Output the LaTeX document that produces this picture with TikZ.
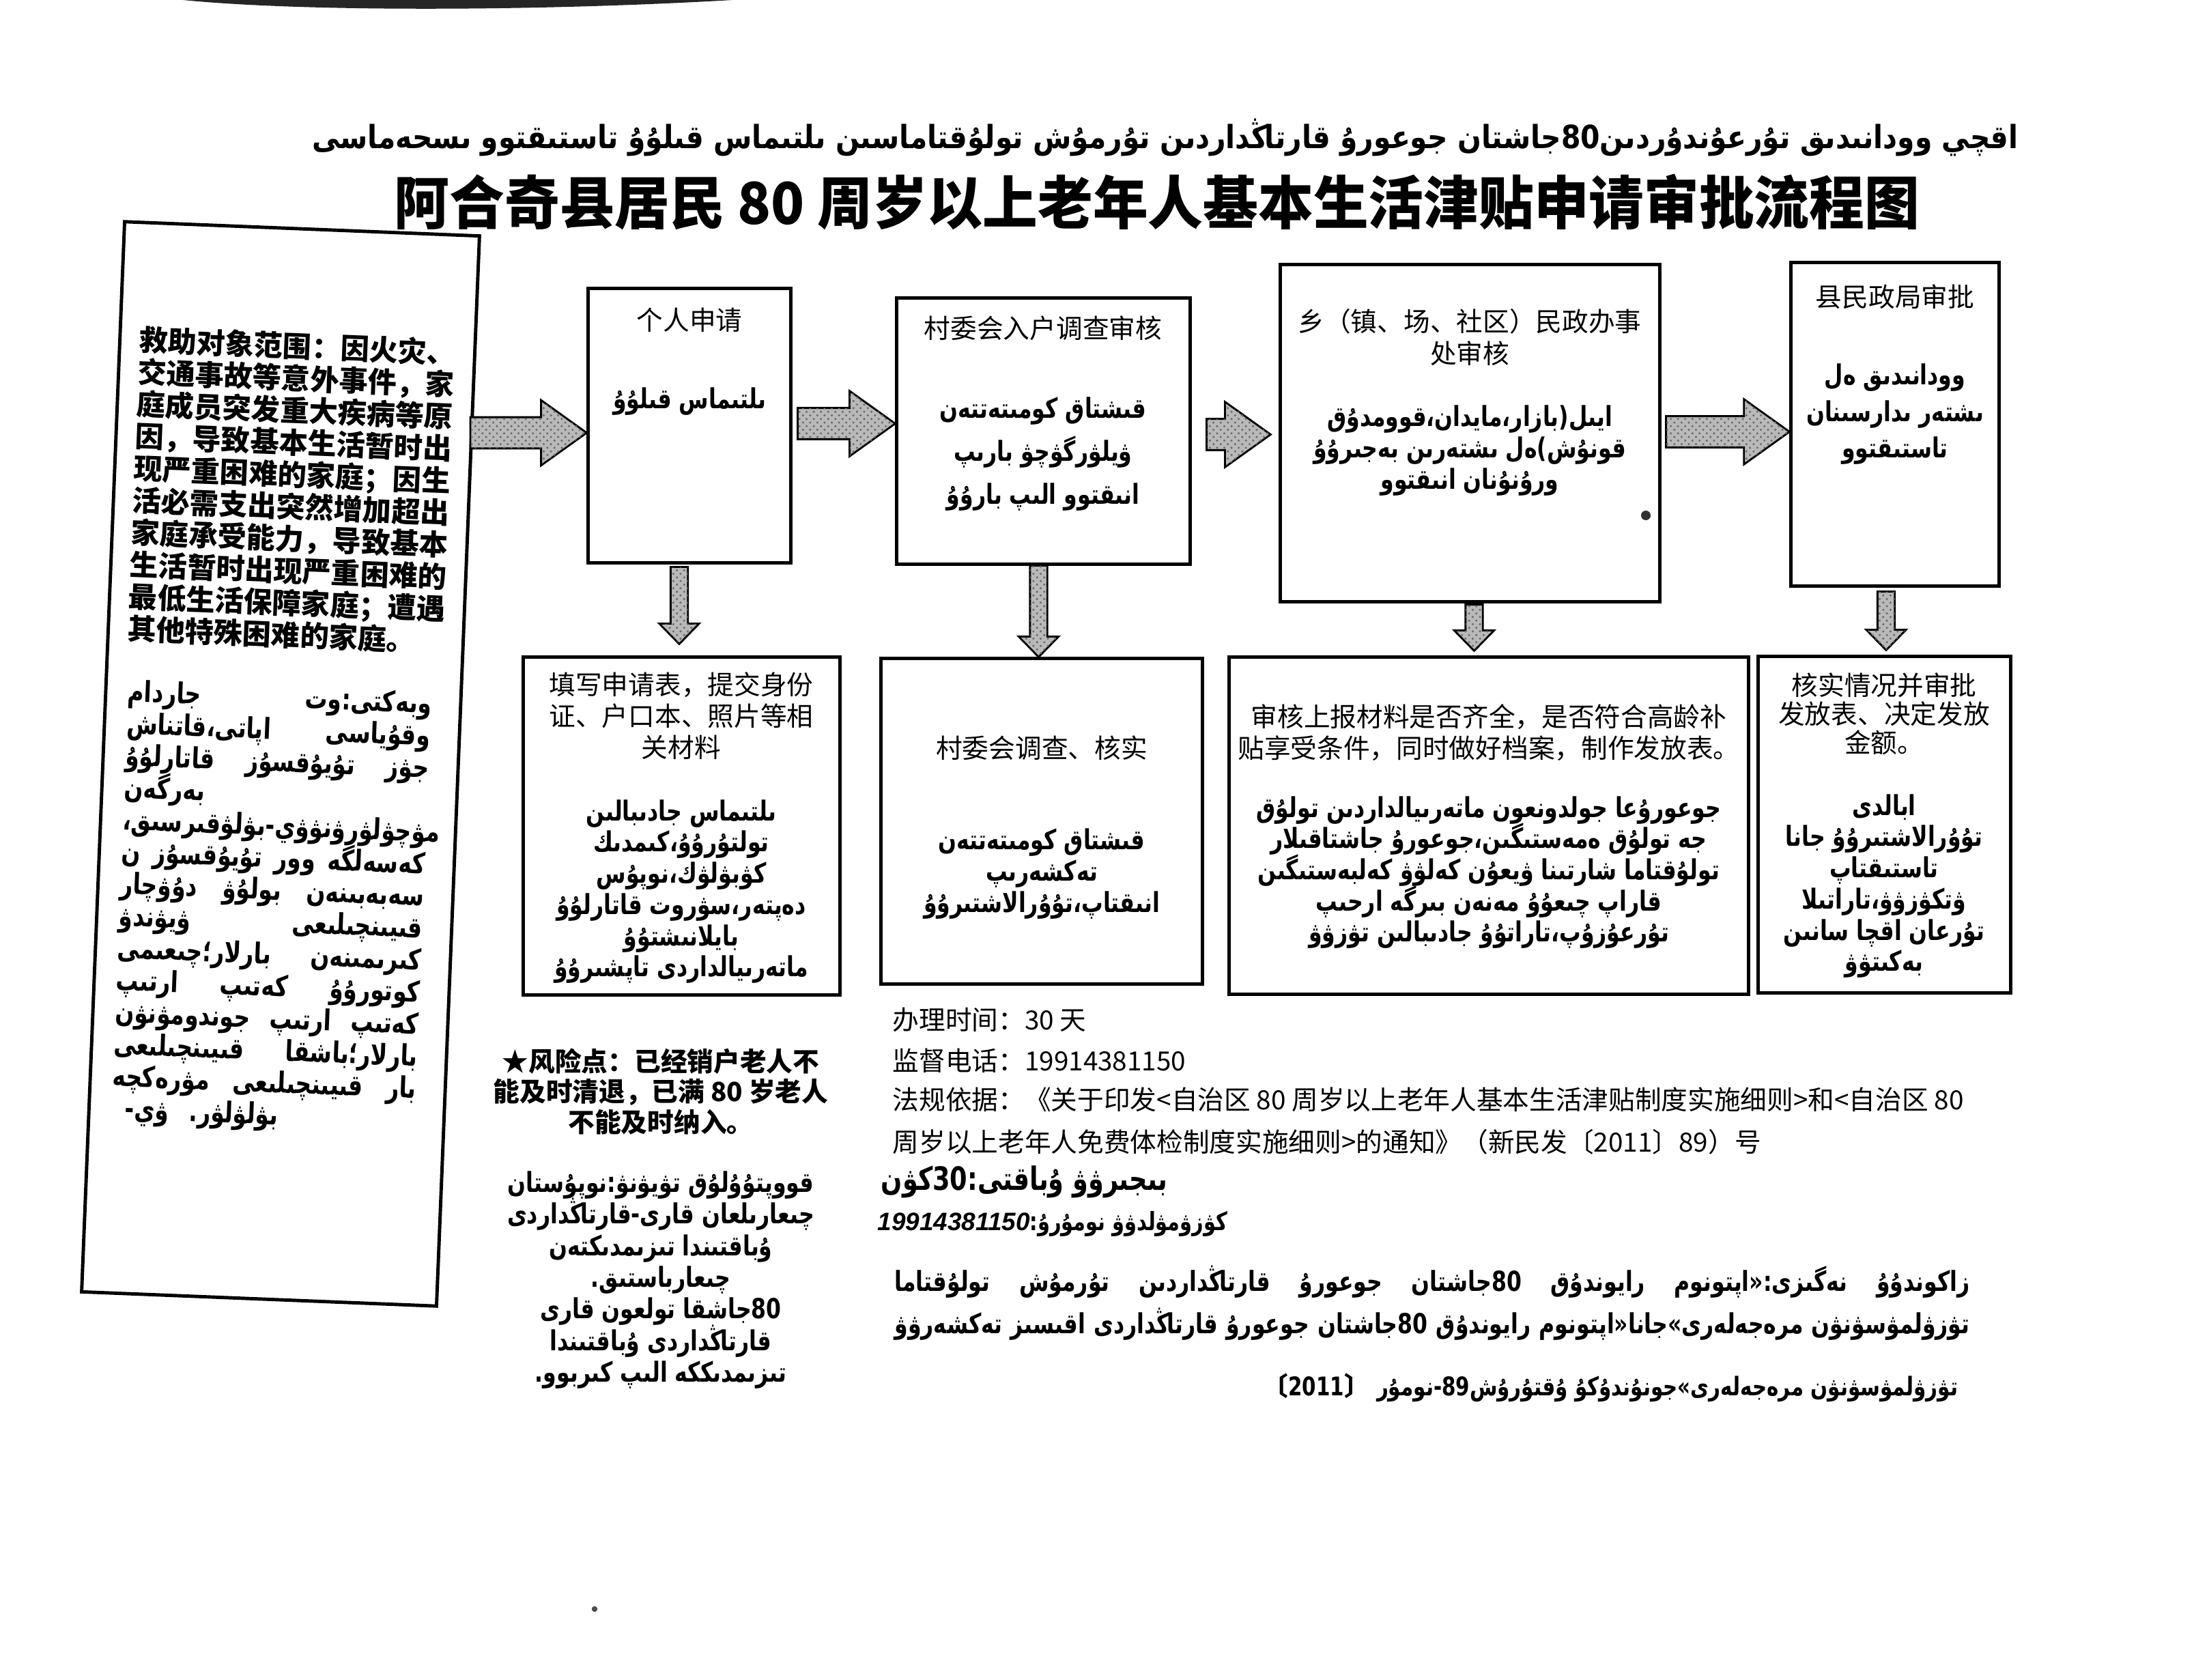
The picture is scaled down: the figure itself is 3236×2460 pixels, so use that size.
\documentclass[tikz,border=0pt]{standalone}
\usepackage{fontspec}
\setmainfont{Liberation Sans}
\newfontfamily\cjk{Noto Sans CJK SC}
\newfontfamily\arabicfont[Script=Arabic, FakeStretch=0.78]{DejaVu Sans}
\TeXXeTstate=1
\usetikzlibrary{calc,patterns}

% text helpers
\newcommand{\ug}[1]{{\arabicfont\bfseries\beginR #1\endR}}
\newcommand{\ugw}[1]{\hbox{\arabicfont\bfseries #1}}
\newcommand{\ugrow}[1]{\hbox to 4.45cm{#1}}
\newcommand{\ugsize}[1]{\fontsize{11.5}{#1}\selectfont\lineskiplimit=-20pt}
\newcommand{\zhsize}[1]{\cjk\fontsize{11}{#1}\selectfont\lineskiplimit=-20pt}

% fat block arrows, from node to node
\newcommand{\hfat}[2]{\path[fatarrow] let \p1=(#1), \p2=(#2) in
  (\x1,\y1+6.5pt) -- (\x2-19pt,\y1+6.5pt) -- (\x2-19pt,\y1+13.6pt) -- (\x2,\y1)
  -- (\x2-19pt,\y1-13.6pt) -- (\x2-19pt,\y1-6.5pt) -- (\x1,\y1-6.5pt) -- cycle;}
\newcommand{\vfat}[2]{\path[fatarrow] let \p1=(#1), \p2=(#2) in
  (\x1-3.6pt,\y1) -- (\x1-3.6pt,\y2+8.5pt) -- (\x1-8.3pt,\y2+8.5pt) -- (\x1,\y2)
  -- (\x1+8.3pt,\y2+8.5pt) -- (\x1+3.6pt,\y2+8.5pt) -- (\x1+3.6pt,\y1) -- cycle;}

\begin{document}
\begin{tikzpicture}[x=0.01cm, y=-0.01cm,
    flowbox/.style={draw, line width=1.4pt, inner sep=0pt},
    zh/.style={align=center, inner sep=0pt, font=\zhsize{13.1}},
    ugt/.style={align=center, inner sep=0pt, font=\ugsize{13}},
    fatarrow/.style={draw, line width=0.8pt, fill=gray!55,
        postaction={pattern=crosshatch dots, pattern color=gray!85!black}}]
    \useasboundingbox (0,0) rectangle (3236,2460);

    % scan edge at the top
    \fill[black!85] (268,0) .. controls (450,18) and (800,16) .. (1073,0) -- cycle;

    % =========================================================
    % TITLES
    % =========================================================
    \node[inner sep=0pt] (ugtitle) at (1707,202) {\resizebox*{24.98cm}{0.55cm}{\ug{اقچي وودانىدىق تۇرعۇندۇردىن\beginL 80\endL{}جاشتان جوعورۇ قارتاڭداردىن تۇرمۇش تولۇقتاماسىن ىلتىماس قىلۇۇ تاستىقتوو ىسحەماسى}}};
    \node[inner sep=0pt] (title) at (1695,296) {\resizebox*{22.33cm}{0.82cm}{\cjk\bfseries 阿合奇县居民 80 周岁以上老年人基本生活津贴申请审批流程图}};

    % =========================================================
    % LEFT BOX (slightly tilted on the scan)
    % =========================================================
    \begin{scope}[shift={(411,1119)}, rotate=-2.3]
        \node[flowbox, transform shape, minimum width=5.2cm, minimum height=15.68cm] (scopebox) at (0,0) {};
        \node[zh, transform shape, align=left, font={\cjk\bfseries\fontsize{12}{13.37}\selectfont}] (scopezh) at (0,-401)
            {救助对象范围：因火灾、\\交通事故等意外事件，家\\庭成员突发重大疾病等原\\因，导致基本生活暂时出\\现严重困难的家庭；因生\\活必需支出突然增加超出\\家庭承受能力，导致基本\\生活暂时出现严重困难的\\最低生活保障家庭；遭遇\\其他特殊困难的家庭。};
        \node[ugt, transform shape, font={\fontsize{12}{13.37}\selectfont\lineskiplimit=-20pt}] (scopeug) at (-5,212)
            {\ugrow{\ugw{جاردام}\hfill\ugw{وبەكتى:وت}}\\
             \ugrow{\ugw{اپاتى،قاتناش}\hfill\ugw{وقۇياسى}}\\
             \ugrow{\ugw{قاتارلۇۇ}\hfill\ugw{تۇيۇقسۇز}\hfill\ugw{جۋز}}\\
             \ugrow{\ugw{بەرگەن}\hfill}\\
             \ugrow{\ugw{قىرسىق،}\hfill\ugw{ۋي-بۋلۋ}\hfill\ugw{مۋچۋلۋرۋنۋ}}\\
             \ugrow{\ugw{ن}\hfill\ugw{تۇيۇقسۇز}\hfill\ugw{وور}\hfill\ugw{كەسەلگە}}\\
             \ugrow{\ugw{دۇۋچار}\hfill\ugw{بولۇۋ}\hfill\ugw{سەبەبىنەن}}\\
             \ugrow{\ugw{ۋيۋندۋ}\hfill\ugw{قىيىنچىلىعى}}\\
             \ugrow{\ugw{بارلار؛چىعىمى}\hfill\ugw{كىرىمىنەن}}\\
             \ugrow{\ugw{ارتىپ}\hfill\ugw{كەتىپ}\hfill\ugw{كوتورۇۇ}}\\
             \ugrow{\ugw{جوندومۋنۋن}\hfill\ugw{ارتىپ}\hfill\ugw{كەتىپ}}\\
             \ugrow{\ugw{قىيىنچىلىعى}\hfill\ugw{بارلار؛باشقا}}\\
             \ugrow{\ugw{مۋرەكچە}\hfill\ugw{قىيىنچىلىعى}\hfill\ugw{بار}}\\
             \ugrow{\hspace{0.2cm}\ugw{ۋي-}\hspace{0.3cm}\ugw{بۋلۋلۋر.}\hfill}};
    \end{scope}
    \coordinate (scopeout) at (689,634);

    % =========================================================
    % UPPER ROW
    % =========================================================
    \node[flowbox, minimum width=2.96cm, minimum height=4.01cm] (apply) at (1010,623.5) {};
    \node[zh] (applyzh) at (1010,469) {个人申请};
    \node[ugt] (applyug) at (1010,588) {\ug{ىلتىماس قىلۇۇ}};

    \node[flowbox, minimum width=4.29cm, minimum height=3.89cm] (village) at (1528.5,631.5) {};
    \node[zh] (villagezh) at (1528,481) {村委会入户调查审核};
    \node[ugt, font=\ugsize{17.9}] (villageug) at (1528,665)
        {\ug{قىشتاق كومىتەتتەن}\\\ug{ۋيلۋرگۋچۋ بارىپ}\\\ug{انىقتوو الىپ بارۇۇ}};

    \node[flowbox, minimum width=5.55cm, minimum height=4.93cm] (town) at (2153.5,634.5) {};
    \node[zh] (townzh) at (2153,494) {乡（镇、场、社区）民政办事\\处审核};
    \node[ugt] (townug) at (2153,660)
        {\ug{ايىل(بازار،مايدان،قوومدۇق}\\\ug{قونۇش)ەل ىشتەرىن بەجىرۇۇ}\\\ug{ورۇنۇنان انىقتوو}};

    \node[flowbox, minimum width=3.04cm, minimum height=4.73cm] (county) at (2776,621.5) {};
    \node[zh] (countyzh) at (2776,435) {县民政局审批};
    \node[ugt, font=\ugsize{15.2}] (countyug) at (2776,607)
        {\ug{وودانىدىق ەل}\\\ug{ىشتەر ىدارسىنان}\\\ug{تاستىقتوو}};

    % =========================================================
    % LOWER ROW
    % =========================================================
    \node[flowbox, minimum width=4.63cm, minimum height=4.94cm] (form) at (998.5,1210) {};
    \node[zh] (formzh) at (998,1049) {填写申请表，提交身份\\证、户口本、照片等相\\关材料};
    \node[ugt] (formug) at (998,1306)
        {\ug{ىلتىماس جادىبالىن}\\\ug{تولتۇرۇۇ،كىمدىك}\\\ug{كۋبۋلۋك،نوپۇس}\\\ug{دەپتەر،سۋروت قاتارلۇۇ}\\\ug{بايلانىشتۇۇ}\\\ug{ماتەرىيالداردى تاپشىرۇۇ}};

    \node[flowbox, minimum width=4.70cm, minimum height=4.76cm] (check) at (1526,1203) {};
    \node[zh] (checkzh) at (1526,1096) {村委会调查、核实};
    \node[ugt] (checkug) at (1526,1280)
        {\ug{قىشتاق كومىتەتتەن}\\\ug{تەكشەرىپ}\\\ug{انىقتاپ،تۇۇرالاشتىرۇۇ}};

    \node[flowbox, minimum width=7.60cm, minimum height=4.93cm] (review) at (2181,1209.5) {};
    \node[zh] (reviewzh) at (2181,1073) {审核上报材料是否齐全，是否符合高龄补\\贴享受条件，同时做好档案，制作发放表。};
    \node[ugt] (reviewug) at (2181,1278)
        {\ug{جوعورۇعا جولدونعون ماتەرىيالداردىن تولۇق}\\\ug{جە تولۇق ەمەستىگىن،جوعورۇ جاشتاقىلار}\\\ug{تولۇقتاما شارتىنا ۋيعۇن كەلۋۋ كەلبەستىگىن}\\\ug{قاراپ چىعۇۇ مەنەن بىرگە ارحىپ}\\\ug{تۇرعۇزۇپ،تاراتۇۇ جادىبالىن تۋزۋۋ}};

    \node[flowbox, minimum width=3.69cm, minimum height=4.92cm] (approve) at (2760.5,1208) {};
    \node[zh, font=\zhsize{11.9}] (approvezh) at (2760,1046) {核实情况并审批\\发放表、决定发放\\金额。};
    \node[ugt] (approveug) at (2760,1298)
        {\ug{ابالدى}\\\ug{تۇۇرالاشتىرۇۇ جانا}\\\ug{تاستىقتاپ}\\\ug{ۋتكۋزۋۋ،تاراتىلا}\\\ug{تۇرعان اقچا سانىن}\\\ug{بەكىتۋۋ}};

    % =========================================================
    % CONNECTORS
    % =========================================================
    \hfat{scopeout}{apply.west}
    \hfat{$(apply.east)+(8,-3)$}{village.west}
    \hfat{$(village.east)+(22,5)$}{$(town.west)+(-12,0)$}
    \hfat{$(town.east)+(7,-2)$}{county.west}
    \vfat{$(apply.south)+(-15,4)$}{$(form.north)+(0,-17)$}
    \vfat{$(village.south)+(-7,0)$}{check.north}
    \vfat{$(town.south)+(6,2)$}{$(review.north)+(0,-7)$}
    \vfat{$(county.south)+(-13,6)$}{$(approve.north)+(0,-7)$}

    % =========================================================
    % NOTES BELOW
    % =========================================================
    \node[zh, font={\cjk\bfseries\fontsize{11}{12.7}\selectfont}] (risk) at (968,1599) {★风险点：已经销户老人不\\能及时清退，已满 80 岁老人\\不能及时纳入。};
    \node[ugt, font=\ugsize{13.2}] (riskug) at (968,1875)
        {\ug{قووپتۇۇلۇق تۋيۋنۋ:نوپۇستان}\\\ug{چىعارىلعان قارى-قارتاڭداردى}\\\ug{ۇباقتىندا تىزىمدىكتەن}\\\ug{چىعارباستىق.}\\\ug{\beginL 80\endL{}جاشقا تولعون قارى}\\\ug{قارتاڭداردى ۇباقتىندا}\\\ug{تىزىمدىككە الىپ كىربوو.}};

    \node[zh, anchor=west] (time) at (1307,1494) {办理时间：30 天};
    \node[zh, anchor=west] (phone) at (1307,1554) {监督电话：19914381150};
    \node[zh, anchor=west, align=left, font=\zhsize{17.4}] (law) at (1307,1642)
        {法规依据：《关于印发<自治区 80 周岁以上老年人基本生活津贴制度实施细则>和<自治区 80\\周岁以上老年人免费体检制度实施细则>的通知》（新民发〔2011〕89）号};
    \node[ugt, anchor=west] (timeug) at (1290,1731) {\resizebox{4.19cm}{!}{\ug{بىجىرۋۋ ۇباقتى:\beginL 30\endL{}كۋن}}};
    \node[ugt, anchor=west] (phoneug) at (1285,1793) {\resizebox{5.12cm}{!}{\ug{كۋزۋمۋلدۋۋ نومۇرۇ:\beginL{\normalfont\bfseries\itshape 19914381150}\endL}}};

    \node[ugt] (lawug1) at (2098,1878) {\hbox to 15.74cm{\arabicfont\bfseries\beginR زاكوندۇۇ نەگىزى:«اپتونوم رايوندۇق \beginL 80\endL{}جاشتان جوعورۇ قارتاڭداردىن تۇرمۇش تولۇقتاما\endR}};
    \node[ugt] (lawug2) at (2098,1940) {\hbox to 15.74cm{\arabicfont\bfseries\beginR تۋزۋلمۋسۋنۋن مرەجەلەرى»جانا«اپتونوم رايوندۇق \beginL 80\endL{}جاشتان جوعورۇ قارتاڭداردى اقىسىز تەكشەرۋۋ\endR}};
    \node[ugt, anchor=east] (lawug3) at (2869,2033) {\resizebox{10.18cm}{!}{\ug{تۋزۋلمۋسۋنۋن مرەجەلەرى»جونۇندۇكۇ ۇقتۇرۇش\beginL 89\endL-نومۇر {\cjk〕}\beginL 2011\endL{\cjk〔}}}};

    % specks on the scan
    \fill[black!80] (2411,755) circle[radius=2pt];
    \fill[black!70] (871,2357) circle[radius=1.2pt];
\end{tikzpicture}
\end{document}
